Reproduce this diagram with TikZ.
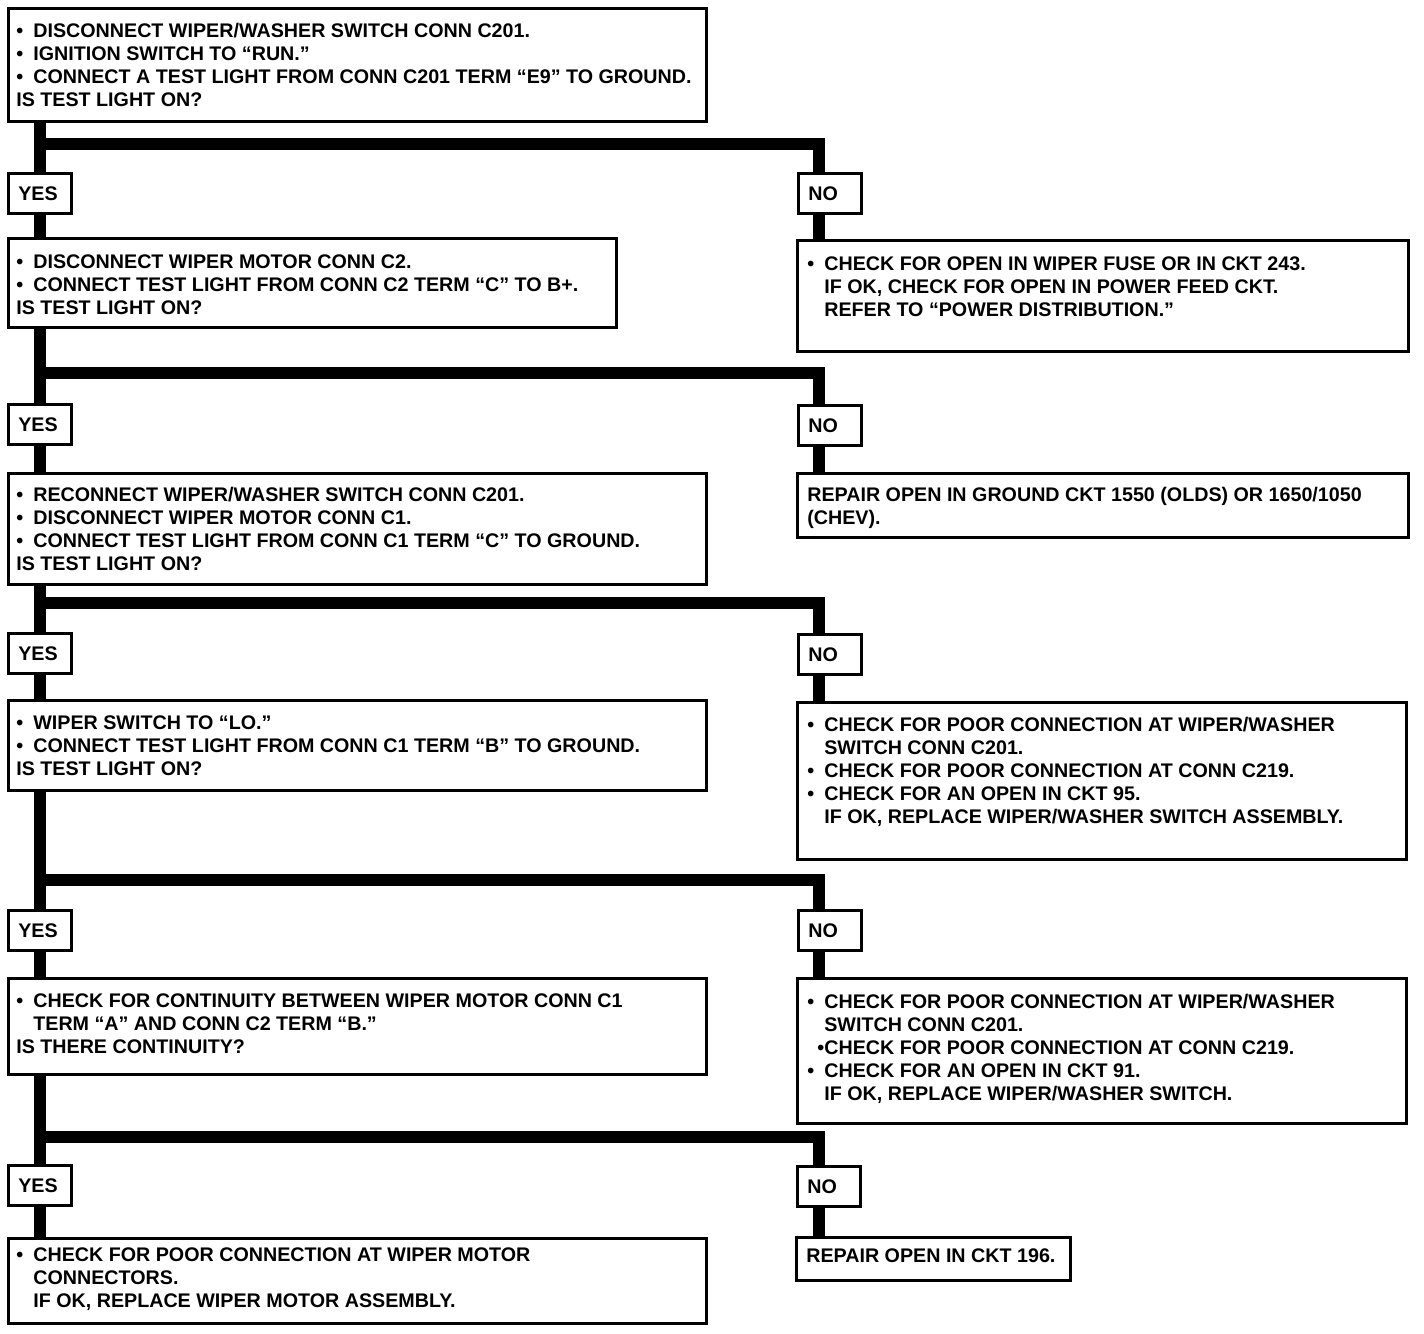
\documentclass[tikz,border=0pt]{standalone}
\usepackage{fontspec}
\setmainfont{Liberation Sans}
\usetikzlibrary{calc, positioning}
\newcommand{\bul}{\makebox[0.17cm][l]{\textbullet}}
\newcommand{\ind}{\hspace*{0.17cm}}

\begin{document}
\begin{tikzpicture}[x=0.01cm, y=-0.01cm,
		stepbox/.style={draw, line width=0.75pt, fill=white, anchor=north west, inner xsep=0.08cm, inner ysep=0pt},
		fixbox/.style={stepbox, inner xsep=0.10cm},
		ansbox/.style={draw, line width=0.75pt, fill=white, anchor=north west, minimum height=0.40cm, text width=0.43cm, inner xsep=0.10cm, align=left},
		flow/.style={line width=0.12cm, line join=miter},
		font=\fontsize{5.6}{6.54}\selectfont\bfseries]
		\path[use as bounding box, fill=white] (0,0) rectangle (1424,1334);
		% test steps (yes side)
		\node[stepbox] (q1) at (7,7) {\parbox[t][1.13cm][t]{6.82cm}{\raggedright\rule{0pt}{0.29cm}\bul DISCONNECT WIPER/WASHER SWITCH CONN C201.\\ \bul IGNITION SWITCH TO “RUN.”\\ \bul CONNECT A TEST LIGHT FROM CONN C201 TERM “E9” TO GROUND.\\ IS TEST LIGHT ON?}};
		\node[stepbox] (q2) at (7,237) {\parbox[t][0.89cm][t]{5.92cm}{\raggedright\rule{0pt}{0.30cm}\bul DISCONNECT WIPER MOTOR CONN C2.\\ \bul CONNECT TEST LIGHT FROM CONN C2 TERM “C” TO B+.\\ IS TEST LIGHT ON?}};
		\node[stepbox] (q3) at (7,472) {\parbox[t][1.11cm][t]{6.82cm}{\raggedright\rule{0pt}{0.28cm}\bul RECONNECT WIPER/WASHER SWITCH CONN C201.\\ \bul DISCONNECT WIPER MOTOR CONN C1.\\ \bul CONNECT TEST LIGHT FROM CONN C1 TERM “C” TO GROUND.\\ IS TEST LIGHT ON?}};
		\node[stepbox] (q4) at (7,699) {\parbox[t][0.90cm][t]{6.82cm}{\raggedright\rule{0pt}{0.29cm}\bul WIPER SWITCH TO “LO.”\\ \bul CONNECT TEST LIGHT FROM CONN C1 TERM “B” TO GROUND.\\ IS TEST LIGHT ON?}};
		\node[stepbox] (q5) at (7,977) {\parbox[t][0.96cm][t]{6.82cm}{\raggedright\rule{0pt}{0.29cm}\bul CHECK FOR CONTINUITY BETWEEN WIPER MOTOR CONN C1\\ \ind TERM “A” AND CONN C2 TERM “B.”\\ IS THERE CONTINUITY?}};
		\node[stepbox] (q6) at (7,1237) {\parbox[t][0.85cm][t]{6.82cm}{\raggedright\rule{0pt}{0.23cm}\bul CHECK FOR POOR CONNECTION AT WIPER MOTOR\\ \ind CONNECTORS.\\ \ind IF OK, REPLACE WIPER MOTOR ASSEMBLY.}};
		% repairs (no side)
		\node[fixbox] (r1) at (796,239) {\parbox[t][1.11cm][t]{5.91cm}{\raggedright\rule{0pt}{0.30cm}\bul CHECK FOR OPEN IN WIPER FUSE OR IN CKT 243.\\ \ind IF OK, CHECK FOR OPEN IN POWER FEED CKT.\\ \ind REFER TO “POWER DISTRIBUTION.”}};
		\node[fixbox] (r2) at (796,472) {\parbox[t][0.64cm][t]{5.91cm}{\raggedright\rule{0pt}{0.28cm}REPAIR OPEN IN GROUND CKT 1550 (OLDS) OR 1650/1050\\ (CHEV).}};
		\node[fixbox] (r3) at (796,701) {\parbox[t][1.57cm][t]{5.89cm}{\raggedright\rule{0pt}{0.29cm}\bul CHECK FOR POOR CONNECTION AT WIPER/WASHER\\ \ind SWITCH CONN C201.\\ \bul CHECK FOR POOR CONNECTION AT CONN C219.\\ \bul CHECK FOR AN OPEN IN CKT 95.\\ \ind IF OK, REPLACE WIPER/WASHER SWITCH ASSEMBLY.}};
		\node[fixbox] (r4) at (796,977) {\parbox[t][1.45cm][t]{5.89cm}{\raggedright\rule{0pt}{0.30cm}\bul CHECK FOR POOR CONNECTION AT WIPER/WASHER\\ \ind SWITCH CONN C201.\\ \makebox[0.17cm][r]{\textbullet}CHECK FOR POOR CONNECTION AT CONN C219.\\ \bul CHECK FOR AN OPEN IN CKT 91.\\ \ind IF OK, REPLACE WIPER/WASHER SWITCH.}};
		\node[fixbox] (r5) at (795,1236) {\parbox[t][0.43cm][t]{2.54cm}{\raggedright\rule{0pt}{0.25cm}REPAIR OPEN IN CKT 196.}};
		% answers
		\node[ansbox] (a1) at (7,172) {YES};
		\node[ansbox] (n1) at (797,172) {NO};
		\node[ansbox] (a2) at (7,403) {YES};
		\node[ansbox] (n2) at (797,404) {NO};
		\node[ansbox] (a3) at (7,632) {YES};
		\node[ansbox] (n3) at (797,633) {NO};
		\node[ansbox] (a4) at (7,909) {YES};
		\node[ansbox] (n4) at (797,909) {NO};
		\node[ansbox] (a5) at (7,1164) {YES};
		\node[ansbox] (n5) at (796,1165) {NO};
		% branch corners
		\coordinate (j1) at (819,144);
		\coordinate (j2) at (819,373);
		\coordinate (j3) at (819,603);
		\coordinate (j4) at (819,880);
		\coordinate (j5) at (819,1137);
		% yes trunk
		\draw[flow] (q1.south -| a1.north) -- (a1.north);
		\draw[flow] (a1.south) -- (q2.north -| a1.south);
		\draw[flow] (q2.south -| a2.north) -- (a2.north);
		\draw[flow] (a2.south) -- (q3.north -| a2.south);
		\draw[flow] (q3.south -| a3.north) -- (a3.north);
		\draw[flow] (a3.south) -- (q4.north -| a3.south);
		\draw[flow] (q4.south -| a4.north) -- (a4.north);
		\draw[flow] (a4.south) -- (q5.north -| a4.south);
		\draw[flow] (q5.south -| a5.north) -- (a5.north);
		\draw[flow] (a5.south) -- (q6.north -| a5.south);
		% no branches
		\draw[flow] (a1.north |- j1) -- (j1) -- (j1 |- n1.north);
		\draw[flow] (j1 |- n1.south) -- (j1 |- r1.north);
		\draw[flow] (a2.north |- j2) -- (j2) -- (j2 |- n2.north);
		\draw[flow] (j2 |- n2.south) -- (j2 |- r2.north);
		\draw[flow] (a3.north |- j3) -- (j3) -- (j3 |- n3.north);
		\draw[flow] (j3 |- n3.south) -- (j3 |- r3.north);
		\draw[flow] (a4.north |- j4) -- (j4) -- (j4 |- n4.north);
		\draw[flow] (j4 |- n4.south) -- (j4 |- r4.north);
		\draw[flow] (a5.north |- j5) -- (j5) -- (j5 |- n5.north);
		\draw[flow] (j5 |- n5.south) -- (j5 |- r5.north);
	\end{tikzpicture}
\end{document}
